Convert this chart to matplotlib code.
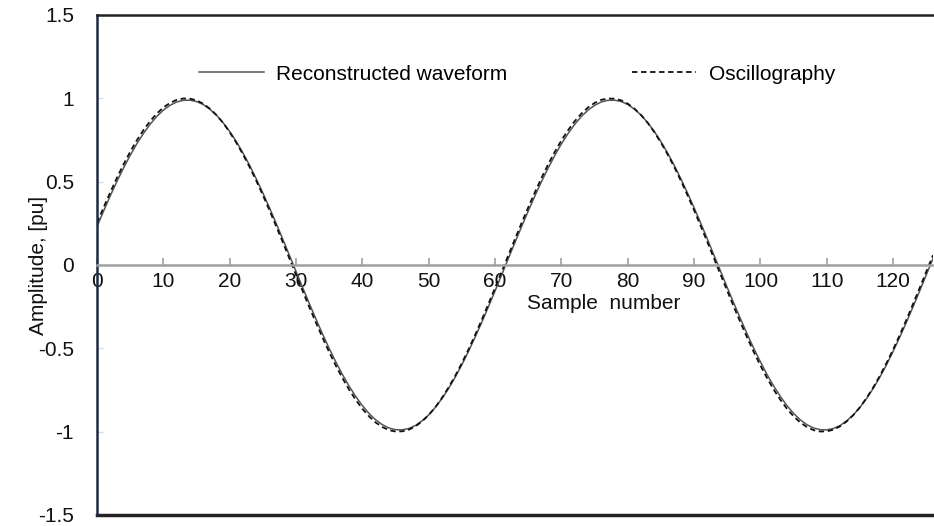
import matplotlib
matplotlib.use("Agg")
import matplotlib.pyplot as plt

plt.rcParams['font.family'] = ['Liberation Sans', 'DejaVu Sans']

# Reconstructed waveform, one value per sample
reconstructed = [
    0.231, 0.324, 0.415, 0.501, 0.582, 0.658, 0.727, 0.789, 0.844, 0.891, 0.929, 0.958, 0.978, 0.988, 0.989, 0.981,
    0.963, 0.935, 0.899, 0.854, 0.801, 0.740, 0.672, 0.598, 0.517, 0.432, 0.343, 0.250, 0.155, 0.058, -0.039, -0.136,
    -0.231, -0.324, -0.415, -0.501, -0.582, -0.658, -0.727, -0.789, -0.844, -0.891, -0.929, -0.958, -0.978, -0.988, -0.989, -0.981,
    -0.963, -0.935, -0.899, -0.854, -0.801, -0.740, -0.672, -0.598, -0.517, -0.432, -0.343, -0.250, -0.155, -0.058, 0.039, 0.136,
    0.231, 0.324, 0.415, 0.501, 0.582, 0.658, 0.727, 0.789, 0.844, 0.891, 0.929, 0.958, 0.978, 0.988, 0.989, 0.981,
    0.963, 0.935, 0.899, 0.854, 0.801, 0.740, 0.672, 0.598, 0.517, 0.432, 0.343, 0.250, 0.155, 0.058, -0.039, -0.136,
    -0.231, -0.324, -0.415, -0.501, -0.582, -0.658, -0.727, -0.789, -0.844, -0.891, -0.929, -0.958, -0.978, -0.988, -0.989, -0.981,
    -0.963, -0.935, -0.899, -0.854, -0.801, -0.740, -0.672, -0.598, -0.517, -0.432, -0.343, -0.250, -0.155, -0.058, 0.039,
]

# Oscillography record
oscillography = [
    0.253, 0.346, 0.436, 0.523, 0.604, 0.679, 0.748, 0.809, 0.863, 0.908, 0.945, 0.972, 0.991, 0.999, 0.998, 0.988,
    0.968, 0.938, 0.900, 0.853, 0.797, 0.734, 0.664, 0.588, 0.506, 0.419, 0.328, 0.233, 0.137, 0.039, -0.059, -0.156,
    -0.253, -0.346, -0.436, -0.523, -0.604, -0.679, -0.748, -0.809, -0.863, -0.908, -0.945, -0.972, -0.991, -0.999, -0.998, -0.988,
    -0.968, -0.938, -0.900, -0.853, -0.797, -0.734, -0.664, -0.588, -0.506, -0.419, -0.328, -0.233, -0.137, -0.039, 0.059, 0.156,
    0.253, 0.346, 0.436, 0.523, 0.604, 0.679, 0.748, 0.809, 0.863, 0.908, 0.945, 0.972, 0.991, 0.999, 0.998, 0.988,
    0.968, 0.938, 0.900, 0.853, 0.797, 0.734, 0.664, 0.588, 0.506, 0.419, 0.328, 0.233, 0.137, 0.039, -0.059, -0.156,
    -0.253, -0.346, -0.436, -0.523, -0.604, -0.679, -0.748, -0.809, -0.863, -0.908, -0.945, -0.972, -0.991, -0.999, -0.998, -0.988,
    -0.968, -0.938, -0.900, -0.853, -0.797, -0.734, -0.664, -0.588, -0.506, -0.419, -0.328, -0.233, -0.137, -0.039, 0.059,
]

samples = list(range(len(reconstructed)))

x_ticks = [0, 10, 20, 30, 40, 50, 60, 70, 80, 90, 100, 110, 120]
y_ticks = [-1.5, -1, -0.5, 0, 0.5, 1, 1.5]
y_labels = ['-1.5', '-1', '-0.5', '0', '0.5', '1', '1.5']

fig = plt.figure(figsize=(9.34, 5.26), dpi=100)
ax = fig.add_axes([97 / 934, 11 / 526, 836 / 934, 500 / 526])

ax.plot(samples, reconstructed, color='#555555', lw=1.1, label='Reconstructed waveform')
ax.plot(samples, oscillography, color='#111111', lw=1.3, ls=(0, (3, 2)), label='Oscillography')

ax.set_xlim(0, 126)
ax.set_ylim(-1.5, 1.5)

# x axis sits on y = 0
ax.spines['bottom'].set_position(('data', 0))
ax.spines['bottom'].set_color('#a0a0a0')
ax.spines['bottom'].set_linewidth(1.8)
ax.spines['right'].set_visible(False)
ax.spines['left'].set_color('#1f2a44')
ax.spines['left'].set_linewidth(1.8)
ax.spines['top'].set_color('#222222')
ax.spines['top'].set_linewidth(1.8)
# frame line at the bottom of the plot
ax.axhline(-1.5, color='#222222', lw=2.5, clip_on=False)

ax.set_xticks(x_ticks)
ax.set_xticklabels([str(t) for t in x_ticks])
ax.tick_params(axis='x', direction='in', length=5, width=1.2, color='#a0a0a0',
               labelsize=15, pad=5, labelcolor='#111111')
ax.set_yticks(y_ticks)
ax.set_yticklabels(y_labels)
ax.tick_params(axis='y', direction='in', length=4, width=1, color='#d0dcea',
               labelsize=15, pad=16.5, labelcolor='#111111')

ax.set_ylabel('Amplitude, [pu]', fontsize=15, color='#111111')
ax.yaxis.set_label_coords(-0.059, 0.5)
ax.text(76.4, -0.23, 'Sample  number', fontsize=15, ha='center', va='center', color='#111111')

ax.legend(loc='center left', bbox_to_anchor=(0.122, 0.882), ncol=2, frameon=False,
          fontsize=15, handlelength=3.1, handletextpad=0.58, columnspacing=6.0,
          borderpad=0, borderaxespad=0)

fig.savefig('out.png', dpi=100)
